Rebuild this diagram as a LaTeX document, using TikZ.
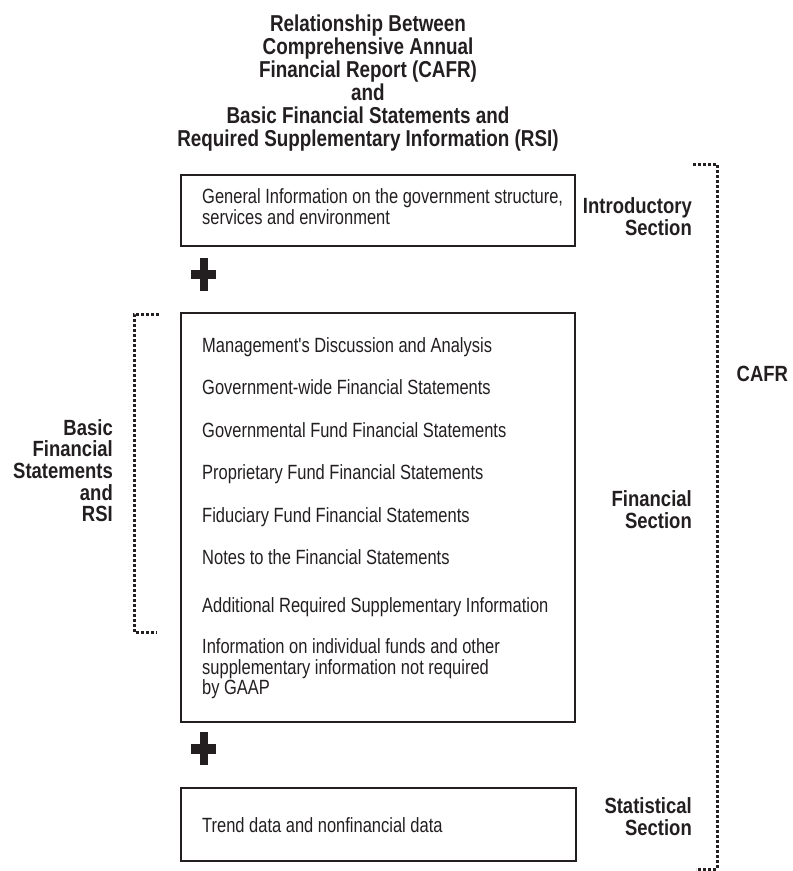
\documentclass[tikz,border=0pt]{standalone}
\usepackage{fontspec}
\setmainfont{Liberation Sans}[FakeStretch=0.8]
\newfontfamily\bodyfont{Liberation Sans}[FakeStretch=0.8]
\newfontfamily\titlefont{Liberation Sans}[FakeStretch=0.82]
\newfontfamily\labelfont{Liberation Sans}[FakeStretch=0.84]
\definecolor{ink}{RGB}{35,31,32}
\newcommand{\firstline}[1]{\rule{0pt}{#1}}
\begin{document}
\begin{tikzpicture}[x=1pt,y=-1pt,
  box/.style={draw=ink, line width=1.8pt, inner sep=0pt, fill=none},
  body/.style={font=\bodyfont\fontsize{20.6}{20.5}\selectfont, text=ink, inner sep=0pt, align=left},
  sidelabel/.style={font=\labelfont\bfseries\fontsize{22}{22}\selectfont, text=ink, inner sep=0pt, align=right, anchor=north east},
  titletext/.style={font=\titlefont\bfseries\fontsize{23}{23}\selectfont, text=ink, inner sep=0pt, align=center, anchor=north},
  dotbracket/.style={draw=ink, line width=3pt, dash pattern=on 3pt off 2pt},
  plusbar/.style={fill=ink}
]
\useasboundingbox (0,0) rectangle (793,871);

% title
\node[titletext] (title) at (368,13.7) {\firstline{18pt}Relationship Between\\Comprehensive Annual\\Financial Report (CAFR)\\and\\Basic Financial Statements and\\Required Supplementary Information (RSI)};

% boxes
\node[box, minimum width=394pt, minimum height=71pt] (intro) at (378,210.5) {};
\node[box, minimum width=394pt, minimum height=409pt] (fin) at (378,517.5) {};
\node[box, minimum width=395pt, minimum height=73pt] (stat) at (378.5,824.5) {};

% intro text
\node[body, anchor=north west] (introtext) at (202,187.5) {\firstline{16pt}General Information on the government structure,\\services and environment};

% financial items
\node[body, anchor=base west] (mda) at (202,352) {Management's Discussion and Analysis};
\node[body, anchor=base west] (gw) at (202,394.5) {Government-wide Financial Statements};
\node[body, anchor=base west] (gf) at (202,437) {Governmental Fund Financial Statements};
\node[body, anchor=base west] (pf) at (202,479.5) {Proprietary Fund Financial Statements};
\node[body, anchor=base west] (ff) at (202,522) {Fiduciary Fund Financial Statements};
\node[body, anchor=base west] (notes) at (202,564.5) {Notes to the Financial Statements};
\node[body, anchor=base west] (arsi) at (202,612.5) {Additional Required Supplementary Information};
\node[body, anchor=north west] (indiv) at (202,637.5) {\firstline{16pt}Information on individual funds and other\\supplementary information not required\\by GAAP};

% statistical text
\node[body, anchor=base west] (trend) at (202,832) {Trend data and nonfinancial data};

% plus signs
\fill[plusbar] (199.5,257.5) rectangle (207.5,290.5);
\fill[plusbar] (191,269.5) rectangle (216,279);
\fill[plusbar] (199.5,732) rectangle (207.5,765);
\fill[plusbar] (191,744) rectangle (216,753.5);

% section labels
\node[sidelabel] (introlbl) at (692,196) {\firstline{17pt}Introductory\\Section};
\node[sidelabel] (finlbl) at (692,489.5) {\firstline{17pt}Financial\\Section};
\node[sidelabel] (statlbl) at (692,796) {\firstline{17pt}Statistical\\Section};
\node[sidelabel, font=\labelfont\bfseries\fontsize{22}{21.6}\selectfont] (bfslbl) at (113,418) {\firstline{17pt}Basic\\Financial\\Statements\\and\\RSI};
\node[sidelabel, anchor=base west] (cafrlbl) at (736.5,381) {CAFR};

% brackets
\coordinate (rtop) at (693,164);
\coordinate (rtopc) at (717,164);
\coordinate (rbotc) at (717,869);
\coordinate (rbot) at (696,869);
\draw[dotbracket] (rtop) -- (rtopc) -- (rbotc) -- (rbot);
\coordinate (ltop) at (159,314);
\coordinate (ltopc) at (134,314);
\coordinate (lbotc) at (134,632);
\coordinate (lbot) at (157,632);
\draw[dotbracket] (ltop) -- (ltopc) -- (lbotc) -- (lbot);
\end{tikzpicture}
\end{document}
